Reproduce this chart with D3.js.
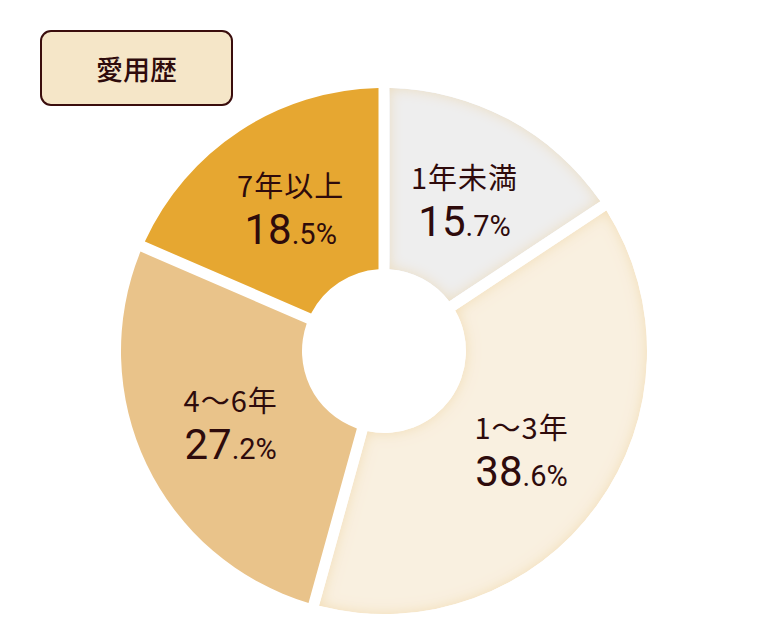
<!DOCTYPE html>
<html>
<head>
<meta charset="utf-8">
<script src="https://cdn.jsdelivr.net/npm/d3@7"></script>
<style>
  body { margin: 0; background: #fff; }
  text { font-family: "Noto Sans CJK JP", "Noto Sans", sans-serif; }
</style>
</head>
<body>
<div id="chart"></div>
<script>
var svgWidth = 768;
var svgHeight = 640;

// data
var categories = ["1年未満", "1〜3年", "4〜6年", "7年以上"];
var values = [15.7, 38.6, 27.2, 18.5];
var colors = ["#eeeeee", "#f9f0e0", "#e9c38a", "#e6a731"];
var glows = ["#ecdcbc", "#f2dcb2", null, null];
var title = "愛用歴";

var cx = 384, cy = 351;
var outerR = 263, innerR = 82, labelR = 170;
var textColor = "#2e0b0c";

var svg = d3.select("#chart")
  .append("svg")
  .attr("width", svgWidth)
  .attr("height", svgHeight);

// inner glow filters for the pale slices
var defs = svg.append("defs");
glows.forEach(function(g, i) {
  if (!g) return;
  var f = defs.append("filter")
    .attr("id", "glow" + i)
    .attr("x", "-10%").attr("y", "-10%")
    .attr("width", "120%").attr("height", "120%");
  f.append("feGaussianBlur")
    .attr("in", "SourceAlpha")
    .attr("stdDeviation", 7)
    .attr("result", "blur");
  f.append("feComposite")
    .attr("in", "SourceAlpha")
    .attr("in2", "blur")
    .attr("operator", "arithmetic")
    .attr("k2", 1).attr("k3", -1)
    .attr("result", "edge");
  f.append("feFlood").attr("flood-color", g).attr("result", "col");
  f.append("feComposite")
    .attr("in", "col").attr("in2", "edge")
    .attr("operator", "in").attr("result", "shade");
  var m = f.append("feMerge");
  m.append("feMergeNode").attr("in", "SourceGraphic");
  m.append("feMergeNode").attr("in", "shade");
});

var pieData = d3.pie().sort(null).value(function(d) { return d; })(values);

var arc = d3.arc()
  .innerRadius(innerR)
  .outerRadius(outerR)
  .padRadius(100)
  .padAngle(0.11);

var labelArc = d3.arc()
  .innerRadius(labelR)
  .outerRadius(labelR);

var chartGroup = svg.append("g")
  .attr("transform", `translate(${cx}, ${cy})`);

chartGroup.selectAll("path")
  .data(pieData)
  .enter()
  .append("path")
  .attr("d", arc)
  .attr("fill", function(d, i) { return colors[i]; })
  .attr("filter", function(d, i) { return glows[i] ? "url(#glow" + i + ")" : null; });

// labels: category on top, percentage below
var labels = chartGroup.selectAll("g.label")
  .data(pieData)
  .enter()
  .append("g")
  .attr("class", "label")
  .attr("transform", function(d) { return `translate(${labelArc.centroid(d)})`; });

labels.append("text")
  .attr("y", -12)
  .attr("text-anchor", "middle")
  .style("font-size", "29px")
  .style("font-weight", "400")
  .style("letter-spacing", "1px")
  .style("fill", textColor)
  .text(function(d, i) { return categories[i]; });

var pct = labels.append("text")
  .attr("y", 35)
  .attr("text-anchor", "middle")
  .style("font-family", "Roboto, 'Noto Sans', sans-serif")
  .style("font-weight", "400")
  .style("fill", textColor);

pct.append("tspan")
  .style("font-size", "42px")
  .text(function(d) { return String(d.data).split(".")[0]; });

pct.append("tspan")
  .style("font-size", "29px")
  .text(function(d) { return "." + String(d.data).split(".")[1] + "%"; });

// title box
svg.append("rect")
  .attr("x", 41).attr("y", 31)
  .attr("width", 191).attr("height", 74)
  .attr("rx", 10).attr("ry", 10)
  .attr("fill", "#f5e6c8")
  .attr("stroke", "#3a0d0d")
  .attr("stroke-width", 2);

svg.append("text")
  .attr("x", 136.5).attr("y", 80)
  .attr("text-anchor", "middle")
  .style("font-size", "27px")
  .style("font-weight", "500")
  .style("fill", textColor)
  .text(title);
</script>
</body>
</html>
